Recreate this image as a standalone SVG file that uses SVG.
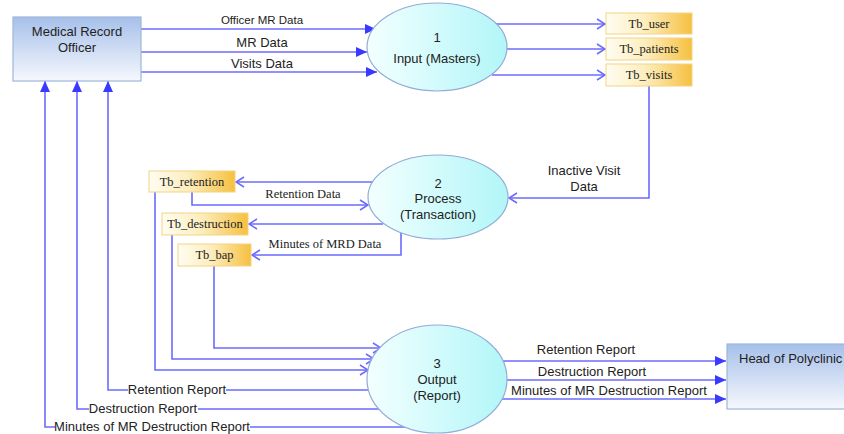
<svg xmlns="http://www.w3.org/2000/svg" width="844" height="434" viewBox="0 0 844 434">
<defs>
<linearGradient id="gBlue" x1="0" y1="0" x2="0" y2="1">
<stop offset="0" stop-color="#a6c0ea"/><stop offset="1" stop-color="#f6f8fd"/>
</linearGradient>
<linearGradient id="gOrange" x1="0" y1="0" x2="1" y2="0">
<stop offset="0" stop-color="#fffdf2"/><stop offset="0.45" stop-color="#fdeebf"/><stop offset="1" stop-color="#f6c040"/>
</linearGradient>
<linearGradient id="gCyan" x1="0" y1="0" x2="1" y2="0">
<stop offset="0" stop-color="#f3ffff"/><stop offset="1" stop-color="#b2f6f8"/>
</linearGradient>
<marker id="tri" markerUnits="userSpaceOnUse" markerWidth="12" markerHeight="10" refX="11" refY="5" orient="auto">
<path d="M0,0 L11,5 L0,10 Z" fill="#3a3aff"/>
</marker>
<marker id="chev" markerUnits="userSpaceOnUse" markerWidth="10" markerHeight="12" refX="9" refY="6" orient="auto">
<path d="M1,1 L9,6 L1,11" fill="none" stroke="#6a6aff" stroke-width="1.5"/>
</marker>
<style>
.ln{fill:none;stroke:#6b6bff;stroke-width:1.6}
.ft{marker-end:url(#tri)}
.fc{marker-end:url(#chev)}
.ent{fill:url(#gBlue);stroke:#9fb6da;stroke-width:1.2}
.ds{fill:url(#gOrange);stroke:#f3d384;stroke-width:1}
.pr{fill:url(#gCyan);stroke:#93acd6;stroke-width:1.2}
.s{font-family:"Liberation Sans",Arial,sans-serif;font-size:13px;fill:#222}
.r{font-family:"Liberation Serif","Times New Roman",serif;font-size:12.5px;fill:#222}
.c{text-anchor:middle}
.bg{fill:#fff}
</style>
</defs>

<g id="connectors">
<path class="ln ft" d="M141,29 H376"/>
<path class="ln ft" d="M141,52 H367"/>
<path class="ln ft" d="M141,72 H377"/>
<path class="ln fc" d="M492,24 H605"/>
<path class="ln fc" d="M507,49 H605"/>
<path class="ln fc" d="M492,75 H605"/>
<path class="ln fc" d="M649,86 V198 H509"/>
<path class="ln fc" d="M373,182 H236"/>
<path class="ln fc" d="M192,192 V205 H368"/>
<path class="ln fc" d="M383,224 H249"/>
<path class="ln fc" d="M401,233 V255 H252"/>
<path class="ln fc" d="M155,192 V370 H368"/>
<path class="ln fc" d="M172,235 V359 H374"/>
<path class="ln fc" d="M214,266 V348 H381"/>
<path class="ln ft" d="M369,390 H108 V81"/>
<path class="ln ft" d="M379,409 H77 V81"/>
<path class="ln ft" d="M405,427 H45 V81"/>
<path class="ln ft" d="M503,361 H726"/>
<path class="ln ft" d="M507,380 H726"/>
<path class="ln ft" d="M502,399 H726"/>
<rect class="bg" x="128" y="382" width="98" height="15"/>
<rect class="bg" x="89" y="401" width="109" height="15"/>
<rect class="bg" x="55" y="419" width="195" height="15"/>
<text class="s c" x="262" y="24" style="font-size:11.5px">Officer MR Data</text>
<text class="s c" x="262" y="47">MR Data</text>
<text class="s c" x="262" y="68">Visits Data</text>
<text class="s c" x="584" y="175">Inactive Visit</text>
<text class="s c" x="584" y="191">Data</text>
<text class="r c" x="303" y="198">Retention Data</text>
<text class="r c" x="325" y="248">Minutes of MRD Data</text>
<text class="s c" x="177" y="394">Retention Report</text>
<text class="s c" x="143" y="413">Destruction Report</text>
<text class="s c" x="152" y="431">Minutes of MR Destruction Report</text>
<text class="s c" x="586" y="354">Retention Report</text>
<text class="s c" x="592" y="376">Destruction Report</text>
<text class="s c" x="609" y="395">Minutes of MR Destruction Report</text>
</g>

<g id="mro">
<rect class="ent" x="13" y="17" width="128" height="64"/>
<text class="s c" x="77" y="36">Medical Record</text>
<text class="s c" x="77" y="52">Officer</text>
</g>

<g id="head">
<rect class="ent" x="727" y="344" width="140" height="65"/>
<text class="s" x="739" y="363">Head of Polyclinic</text>
</g>

<g id="p1">
<ellipse class="pr" cx="437" cy="47" rx="70" ry="44"/>
<text class="s c" x="437" y="42">1</text>
<text class="s c" x="437" y="63">Input (Masters)</text>
</g>

<g id="p2">
<ellipse class="pr" cx="438" cy="197" rx="70" ry="42"/>
<text class="s c" x="438" y="188">2</text>
<text class="s c" x="438" y="203">Process</text>
<text class="s c" x="438" y="219">(Transaction)</text>
</g>

<g id="p3">
<ellipse class="pr" cx="437" cy="379" rx="70" ry="54"/>
<text class="s c" x="437" y="368">3</text>
<text class="s c" x="437" y="384">Output</text>
<text class="s c" x="437" y="400">(Report)</text>
</g>

<g id="tb_user">
<rect class="ds" x="606" y="13" width="86" height="21"/>
<text class="r c" x="649" y="28">Tb_user</text>
</g>
<g id="tb_patients">
<rect class="ds" x="606" y="38" width="86" height="22"/>
<text class="r c" x="649" y="53">Tb_patients</text>
</g>
<g id="tb_visits">
<rect class="ds" x="606" y="64" width="86" height="22"/>
<text class="r c" x="649" y="79">Tb_visits</text>
</g>
<g id="tb_retention">
<rect class="ds" x="149" y="171" width="86" height="21"/>
<text class="r c" x="192" y="186">Tb_retention</text>
</g>
<g id="tb_destruction">
<rect class="ds" x="162" y="213" width="86" height="22"/>
<text class="r c" x="205" y="228">Tb_destruction</text>
</g>
<g id="tb_bap">
<rect class="ds" x="178" y="244" width="73" height="22"/>
<text class="r c" x="214.5" y="259">Tb_bap</text>
</g>
</svg>
